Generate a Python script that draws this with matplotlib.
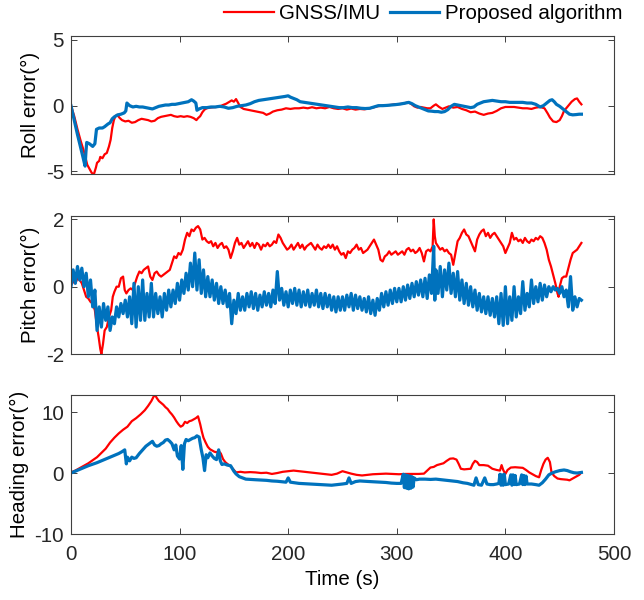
import numpy as np
import matplotlib
matplotlib.use("Agg")
import matplotlib.pyplot as plt

# values, (time s, error deg) pairs
roll_gnss = [
    (0, 0), (3, -0.8), (6, -1.8), (9, -2.7), (12, -3.5), (15, -4.5), (17, -4.8), (19, -5.1), (21, -5.25),
    (23, -4.7), (24, -4.35), (26, -4.2), (27, -3.9), (29, -4.0), (31, -3.7), (33, -3.6), (35, -3.1),
    (36.5, -2.6), (38, -1.7), (39.5, -1.1), (41, -0.8), (42.5, -0.7), (45, -0.95), (47, -1.1), (50, -1.2),
    (53, -1.15), (56, -1.3), (59, -1.25), (62, -1.1), (65, -1.0), (68, -1.05), (71, -1.1), (74, -1.2),
    (77, -1.15), (80, -0.95), (83, -0.85), (86, -0.8), (89, -0.75), (92, -0.7), (95, -0.8), (98, -0.85),
    (101, -0.8), (104, -0.85), (107, -0.8), (110, -0.85), (113, -0.95), (115.5, -1.1), (117, -0.95),
    (119, -0.8), (121, -0.5), (123, -0.3), (125, -0.2), (128, -0.15), (131, -0.12), (134, -0.1),
    (137, -0.05), (140, 0.05), (143, 0.15), (146, 0.3), (148, 0.4), (150, 0.3), (152, 0.5), (154, 0.2),
    (156, -0.1), (159, -0.25), (162, -0.3), (165, -0.35), (168, -0.4), (171, -0.45), (174, -0.5),
    (177, -0.55), (180, -0.7), (183, -0.6), (186, -0.45), (190, -0.35), (194, -0.3), (198, -0.2),
    (202, -0.25), (206, -0.2), (210, -0.2), (214, -0.15), (218, -0.2), (222, -0.12), (226, -0.2),
    (230, -0.15), (234, -0.2), (238, -0.1), (242, -0.2), (246, -0.25), (250, -0.2), (254, -0.3),
    (258, -0.22), (262, -0.3), (266, -0.25), (270, -0.28), (274, -0.22), (278, -0.15), (282, -0.05),
    (286, 0.0), (290, 0.02), (294, 0.05), (298, 0.1), (302, 0.12), (306, 0.15), (310, 0.25), (313, 0.15),
    (316, -0.05), (319, -0.15), (322, -0.1), (325, -0.15), (328, -0.2), (331, -0.2), (334, 0.0),
    (336, 0.1), (339, -0.1), (342, -0.25), (345, -0.15), (348, -0.05), (352, -0.15), (356, -0.1),
    (360, -0.25), (364, -0.35), (368, -0.5), (372, -0.45), (376, -0.6), (380, -0.7), (384, -0.6),
    (388, -0.55), (392, -0.4), (396, -0.2), (400, -0.1), (404, -0.1), (408, -0.1), (412, -0.15),
    (416, -0.2), (420, -0.2), (424, -0.25), (428, -0.15), (432, -0.1), (436, -0.2), (439, -0.6),
    (441, -0.9), (444, -1.2), (447, -1.25), (450, -1.1), (452, -0.8), (454, -0.4), (456, -0.2),
    (458, 0.0), (461, 0.3), (464, 0.5), (466, 0.55), (468, 0.3), (470, 0.1),
]
roll_prop = [
    (0, 0), (3, -1.1), (6, -2.2), (9, -3.2), (11, -3.9), (13, -4.6), (13.8, -3.5), (14.5, -2.8),
    (17, -2.9), (20, -3.1), (22, -2.9), (23.5, -1.8), (26, -1.7), (29, -1.7), (31, -1.6), (34, -1.4),
    (36, -1.3), (38, -1.0), (40, -0.85), (43, -0.7), (46, -0.65), (49, -0.55), (50.5, -0.4), (51.5, 0.2),
    (54, 0.0), (57, -0.1), (60, -0.05), (63, -0.1), (66, -0.1), (69, -0.15), (72, -0.2), (75, -0.25),
    (78, -0.15), (81, -0.05), (84, 0.0), (87, 0.05), (90, 0.05), (93, 0.1), (96, 0.1), (99, 0.15),
    (102, 0.2), (105, 0.25), (108, 0.3), (111, 0.45), (113, 0.35), (115, 0.2), (116, -0.35),
    (118, -0.25), (121, -0.15), (125, -0.15), (129, -0.1), (133, -0.1), (137, -0.05), (141, -0.1),
    (145, -0.2), (149, -0.15), (153, -0.05), (157, 0.0), (161, 0.05), (165, 0.15), (169, 0.3),
    (173, 0.4), (177, 0.45), (181, 0.5), (185, 0.55), (189, 0.6), (193, 0.65), (197, 0.7), (200, 0.75),
    (202, 0.65), (205, 0.55), (208, 0.45), (211, 0.3), (215, 0.25), (219, 0.2), (223, 0.15),
    (227, 0.1), (231, 0.05), (235, 0.0), (239, -0.05), (243, -0.1), (247, -0.15), (251, -0.15),
    (255, -0.1), (259, -0.15), (263, -0.15), (267, -0.2), (271, -0.22), (275, -0.2), (279, -0.1),
    (283, 0.0), (287, 0.0), (291, 0.02), (295, 0.05), (299, 0.08), (303, 0.12), (307, 0.18),
    (311, 0.25), (314, 0.15), (317, 0.0), (320, -0.1), (323, -0.2), (326, -0.3), (329, -0.4),
    (332, -0.42), (335, -0.45), (338, -0.45), (341, -0.5), (344, -0.45), (347, -0.3), (350, -0.05),
    (353, 0.1), (356, 0.05), (359, 0.0), (362, -0.05), (365, -0.1), (368, -0.15), (371, -0.1),
    (374, 0.1), (377, 0.2), (380, 0.3), (384, 0.35), (388, 0.4), (392, 0.35), (396, 0.3), (400, 0.3),
    (404, 0.25), (408, 0.25), (412, 0.25), (416, 0.25), (420, 0.2), (424, 0.2), (428, 0.1),
    (432, -0.1), (435, 0.0), (438, 0.2), (441, 0.4), (443, 0.45), (445, 0.3), (447, 0.1), (450, -0.05),
    (453, -0.25), (456, -0.45), (459, -0.65), (462, -0.7), (465, -0.68), (468, -0.65), (470, -0.65),
]
pitch_gnss = [
    (0, 0.05), (2, 0.15), (4, 0.1), (6, 0.25), (8, 0.2), (10, 0.1), (12, -0.1), (14, -0.3), (16, -0.35),
    (18, -0.45), (20, -0.5), (22, -0.7), (24, -1.2), (25.5, -1.5), (27, -1.85), (28, -2.0), (29.5, -1.7),
    (31, -1.3), (33, -1.2), (35, -0.9), (37, -0.7), (38.5, -0.3), (40, -0.15), (42, 0.0), (44, 0.0),
    (46, 0.25), (48, 0.3), (49.5, -0.1), (51, -0.2), (53, -0.1), (55, -0.05), (57, -0.1), (59, 0.1),
    (61, 0.3), (63, 0.45), (65, 0.4), (67, 0.5), (69, 0.55), (71, 0.6), (73, 0.3), (75, 0.2), (77, 0.4),
    (79, 0.45), (81, 0.35), (83, 0.3), (85, 0.35), (87, 0.4), (89, 0.45), (91, 0.5), (93, 0.7),
    (95, 0.9), (97, 0.85), (99, 1.0), (101, 0.95), (103, 1.1), (105, 1.4), (107, 1.6), (109, 1.5),
    (111, 1.7), (113, 1.65), (115, 1.75), (117, 1.8), (119, 1.7), (121, 1.4), (123, 1.45), (125, 1.35),
    (127, 1.3), (129, 1.35), (131, 1.2), (133, 1.3), (135, 1.15), (137, 1.25), (139, 1.3), (141, 1.15),
    (143, 1.2), (145, 1.1), (147, 0.85), (149, 1.05), (151, 1.3), (153, 1.45), (155, 1.25), (157, 1.3),
    (159, 1.15), (161, 1.25), (163, 1.35), (165, 1.2), (167, 1.3), (169, 1.15), (171, 1.3), (173, 1.25),
    (175, 1.1), (177, 1.25), (179, 1.2), (181, 1.3), (183, 1.2), (185, 1.25), (187, 1.35), (189, 1.3),
    (191, 1.55), (193, 1.45), (195, 1.3), (197, 1.2), (199, 1.1), (201, 1.15), (203, 1.25), (205, 1.1),
    (207, 1.2), (209, 1.3), (211, 1.15), (213, 1.25), (215, 1.1), (217, 1.2), (219, 1.25), (221, 1.3),
    (223, 1.2), (225, 1.1), (227, 1.25), (229, 1.15), (231, 1.1), (233, 1.2), (235, 1.15), (237, 1.25),
    (239, 1.15), (241, 1.25), (243, 1.1), (245, 1.2), (247, 1.05), (249, 0.95), (251, 1.0), (253, 0.85),
    (255, 1.05), (257, 1.0), (259, 1.1), (261, 1.15), (263, 1.25), (265, 1.1), (267, 1.15), (269, 1.0),
    (271, 1.05), (273, 1.1), (275, 1.2), (277, 1.3), (279, 1.4), (281, 1.25), (283, 1.1), (285, 0.8),
    (287, 0.75), (289, 0.9), (291, 0.95), (293, 1.05), (295, 0.95), (297, 1.0), (299, 1.05), (301, 0.95),
    (303, 1.0), (305, 1.05), (307, 0.95), (309, 1.1), (311, 1.15), (313, 1.05), (315, 1.1), (317, 1.0),
    (319, 1.05), (321, 1.15), (323, 1.0), (325, 0.75), (327, 1.05), (329, 1.1), (331, 1.05), (333, 1.2),
    (334, 2.0), (335, 1.5), (336, 1.3), (338, 1.2), (340, 1.1), (342, 1.15), (344, 1.05), (346, 1.1),
    (348, 1.0), (350, 0.95), (352, 0.65), (354, 1.0), (356, 1.35), (358, 1.45), (360, 1.6), (362, 1.7),
    (364, 1.55), (366, 1.5), (368, 1.35), (370, 1.2), (372, 1.05), (374, 1.4), (376, 1.55), (378, 1.65),
    (380, 1.7), (382, 1.5), (384, 1.6), (386, 1.45), (388, 1.55), (390, 1.6), (392, 1.5), (394, 1.4),
    (396, 1.3), (398, 1.2), (400, 1.0), (402, 1.15), (404, 1.3), (406, 1.6), (408, 1.4), (410, 1.45),
    (412, 1.35), (414, 1.4), (416, 1.3), (418, 1.45), (420, 1.35), (422, 1.3), (424, 1.4), (426, 1.35),
    (428, 1.45), (430, 1.4), (432, 1.5), (434, 1.45), (436, 1.3), (438, 1.1), (440, 0.8), (442, 0.6),
    (444, 0.35), (446, 0.1), (448, -0.2), (449, -0.3), (450, 0.0), (452, 0.25), (454, 0.3), (456, 0.3),
    (458, 0.55), (460, 0.8), (462, 1.0), (464, 1.05), (466, 1.1), (468, 1.2), (470, 1.3),
]
pitch_prop = [
    (0, 0.0), (2, 0.5), (4, 0.1), (6, 0.6), (8, 0.2), (10, 0.55), (12, 0.0), (14, 0.4), (16, -0.3),
    (18, 0.2), (20, -0.6), (22, -0.1), (24, -1.3), (26, -0.6), (28, -1.2), (30, -0.5), (32, -1.0),
    (34, -0.6), (36, -1.3), (38, -0.9), (40, -1.1), (42, -0.6), (44, -0.9), (46, -0.5), (48, -0.8),
    (50, -0.4), (52, -0.9), (54, -0.3), (56, -1.1), (58, 0.1), (60, -1.2), (62, 0.0), (64, -1.0),
    (66, 0.2), (68, -1.0), (70, -0.2), (72, -0.9), (74, 0.1), (76, -0.9), (78, -0.2), (80, -0.8),
    (82, -0.3), (84, -0.9), (86, -0.2), (88, -0.7), (90, -0.1), (92, -0.6), (94, -0.1), (96, -0.5),
    (98, 0.1), (100, -0.4), (102, 0.2), (104, -0.2), (106, 0.4), (108, -0.1), (110, 0.7), (112, 0.0),
    (114, 1.0), (116, -0.1), (118, 0.8), (120, -0.2), (122, 0.5), (124, -0.3), (126, 0.3), (128, -0.3),
    (130, 0.2), (132, -0.4), (134, 0.1), (136, -0.5), (138, 0.0), (140, -0.5), (142, -0.1), (144, -0.6),
    (146, -0.2), (148, -1.1), (150, -0.4), (152, -0.8), (154, -0.2), (156, -0.7), (158, -0.3),
    (160, -0.7), (162, -0.2), (164, -0.6), (166, -0.15), (168, -0.65), (170, -0.2), (172, -0.7),
    (174, -0.25), (176, -0.6), (178, -0.15), (180, -0.55), (182, -0.2), (184, -0.6), (186, -0.1),
    (188, -0.5), (190, 0.45), (192, -0.4), (194, -0.05), (196, -0.55), (198, -0.15), (200, -0.6),
    (202, -0.1), (204, -0.5), (206, -0.05), (208, -0.55), (210, -0.1), (212, -0.6), (214, -0.15),
    (216, -0.55), (218, -0.1), (220, -0.6), (222, -0.2), (224, -0.55), (226, -0.1), (228, -0.6),
    (230, -0.2), (232, -0.65), (234, -0.2), (236, -0.6), (238, -0.25), (240, -0.7), (242, -0.3),
    (244, -0.75), (246, -0.3), (248, -0.7), (250, -0.3), (252, -0.7), (254, -0.25), (256, -0.6),
    (258, -0.2), (260, -0.7), (262, -0.25), (264, -0.65), (266, -0.3), (268, -0.7), (270, -0.35),
    (272, -0.75), (274, -0.3), (276, -0.8), (278, -0.4), (280, -0.85), (282, -0.35), (284, -0.7),
    (286, -0.2), (288, -0.6), (290, -0.15), (292, -0.55), (294, -0.1), (296, -0.5), (298, -0.05),
    (300, -0.45), (302, -0.05), (304, -0.45), (306, 0.0), (308, -0.4), (310, 0.05), (312, -0.35),
    (314, 0.1), (316, -0.3), (318, 0.15), (320, -0.25), (322, 0.2), (324, -0.3), (326, 0.25),
    (328, -0.35), (330, 0.35), (332, -0.2), (334, 1.2), (335, -0.4), (336, 0.5), (338, -0.2), (340, 0.6),
    (342, -0.3), (344, 0.5), (346, -0.1), (348, 0.7), (350, -0.2), (352, 0.4), (354, -0.3), (356, 0.45),
    (358, -0.4), (360, 0.2), (362, -0.5), (364, 0.1), (366, -0.55), (368, 0.0), (370, -0.6), (372, -0.1),
    (374, -0.7), (376, -0.2), (378, -0.75), (380, -0.3), (382, -0.8), (384, -0.3), (386, -0.85),
    (388, -0.35), (390, -0.9), (392, -0.3), (394, -1.1), (396, -0.2), (398, -1.15), (400, 0.0),
    (402, -1.1), (404, -0.3), (406, -1.0), (408, 0.0), (410, -0.9), (412, -0.3), (414, -0.8),
    (416, 0.15), (418, -0.7), (420, -0.2), (422, -0.6), (424, 0.2), (426, -0.5), (428, 0.0),
    (430, -0.45), (432, 0.1), (434, -0.4), (436, 0.05), (438, -0.3), (440, 0.0), (442, -0.15),
    (444, 0.0), (446, -0.1), (448, -0.05), (450, -0.2), (452, 0.0), (454, -0.3), (456, -0.1),
    (458, -0.6), (460, 0.3), (462, -0.7), (464, -0.3), (466, -0.6), (468, -0.35), (470, -0.4),
]
heading_gnss = [
    (0, 0.1), (4, 0.4), (8, 0.8), (12, 1.2), (16, 1.6), (20, 2.1), (24, 2.6), (28, 3.3), (32, 4.0),
    (36, 5.0), (40, 5.8), (44, 6.5), (48, 7.1), (52, 7.6), (56, 8.5), (60, 9.0), (64, 9.6), (68, 10.3),
    (71, 11.0), (74, 11.8), (76, 12.5), (77.5, 12.8), (79, 12.3), (81, 11.8), (83, 11.5), (85, 11.2),
    (87, 10.8), (89, 10.5), (91, 10.0), (93, 9.6), (95, 9.1), (97, 8.5), (99, 8.0), (101, 7.6),
    (103, 7.8), (105, 8.4), (107, 8.2), (109, 8.5), (111, 8.6), (113, 8.8), (115, 9.0), (117, 9.3),
    (119, 8.0), (120.5, 6.8), (122, 5.8), (124, 5.0), (126, 4.3), (128, 3.9), (130, 3.7), (132, 3.5),
    (134, 3.4), (136, 3.6), (138, 3.2), (140, 2.3), (142, 1.8), (144, 1.5), (146, 1.2), (148, 0.9),
    (150, 0.5), (152, 0.1), (156, 0.2), (160, 0.1), (165, 0.15), (170, 0.1), (175, 0.0), (180, 0.05),
    (185, -0.15), (190, 0.0), (195, 0.2), (200, 0.3), (205, 0.4), (210, 0.3), (215, 0.2), (220, 0.1),
    (225, 0.0), (230, -0.1), (235, -0.2), (240, -0.3), (245, -0.1), (250, 0.3), (254, 0.1),
    (258, -0.1), (263, -0.3), (268, -0.4), (273, -0.3), (278, -0.2), (284, -0.15), (290, -0.1),
    (296, -0.15), (302, -0.2), (308, -0.15), (314, -0.15), (320, -0.15), (325, -0.1), (328, 0.4),
    (331, 0.9), (334, 1.0), (337, 1.3), (340, 1.45), (343, 1.6), (346, 2.0), (349, 2.35), (352, 2.4),
    (355, 2.2), (357, 1.5), (359, 0.7), (362, 0.6), (365, 0.65), (368, 0.7), (370, 1.5), (372, 2.0),
    (374, 1.8), (376, 1.3), (380, 1.3), (384, 1.2), (388, 0.7), (392, 0.5), (395, 0.4), (396.5, 1.3),
    (398, 0.5), (400, -0.15), (402, 0.5), (405, 0.9), (409, 0.95), (413, 0.9), (416, 0.85), (419, 0.5),
    (422, 0.1), (425, -0.2), (428, -0.5), (431, -0.7), (433, 0.5), (435, 1.5), (437, 2.2), (439, 2.5),
    (441, 1.8), (442.5, 0.1), (445, -0.5), (448, -0.9), (451, -1.0), (454, -1.05), (457, -1.1),
    (459, -1.2), (462, -0.9), (465, -0.6), (468, -0.3), (470, 0.1),
]
heading_prop = [
    (0, 0), (4, 0.3), (8, 0.6), (12, 0.9), (16, 1.2), (20, 1.45), (24, 1.7), (28, 2.0), (32, 2.3),
    (36, 2.6), (40, 2.9), (44, 3.2), (47, 3.5), (49.5, 3.8), (51, 1.5), (52, 2.6), (54, 2.0), (56, 2.6),
    (58, 2.4), (60, 2.5), (63, 3.2), (66, 3.8), (69, 4.4), (72, 4.8), (75, 5.2), (77, 4.6), (79, 4.4),
    (81, 4.5), (83, 4.8), (85, 5.0), (87, 5.4), (89, 5.5), (91, 5.2), (93, 4.8), (95, 3.8), (96.5, 4.6),
    (98, 2.8), (100, 2.3), (101.5, 4.5), (103, 0.6), (104.5, 4.8), (106, 5.5), (108, 5.3), (110, 5.5),
    (112, 5.7), (114, 5.8), (116, 6.1), (118, 5.9), (120, 3.8), (121.5, 2.5), (123, 0.4), (124.5, 3.0),
    (126, 2.5), (128, 3.3), (130, 2.8), (132, 2.4), (134, 2.2), (136, 3.8), (137.5, 2.0), (139, 1.4),
    (141, 1.5), (144, 1.3), (147, 1.2), (150, 0.3), (152, -0.15), (155, -0.6), (158, -0.8), (161, -1.0),
    (165, -1.05), (170, -1.1), (175, -1.15), (180, -1.2), (185, -1.3), (190, -1.35), (195, -1.45),
    (198, -1.5), (200, -0.8), (202, -1.5), (206, -1.6), (210, -1.7), (215, -1.75), (220, -1.8),
    (225, -1.85), (230, -1.9), (235, -1.95), (240, -2.0), (245, -1.9), (250, -1.8), (254, -1.7),
    (256, -0.8), (258, -1.7), (262, -1.4), (266, -1.3), (270, -1.35), (275, -1.4), (280, -1.45),
    (285, -1.5), (290, -1.55), (295, -1.65), (300, -1.7), (304, -1.7), (306, -0.2), (307, -2.4),
    (308, -0.3), (309, -2.5), (310, -0.4), (311, -2.6), (312, -0.5), (313, -2.5), (314, -0.6),
    (315, -2.3), (316, -0.8), (318, -1.1), (321, -1.0), (326, -1.0), (331, -1.05), (336, -1.0),
    (341, -1.1), (346, -1.2), (351, -1.3), (356, -1.4), (361, -1.6), (365, -1.7), (369, -1.9),
    (371, -2.0), (373, -0.8), (375, -1.9), (378, -2.0), (381, -0.8), (383, -1.8), (386, -1.9),
    (389, -1.9), (392, -1.8), (394, -1.7), (395, -0.2), (396, -2.0), (397, -0.3), (398, -2.0),
    (399, -0.2), (400, -1.9), (403, -1.8), (405, -0.3), (406, -2.0), (407, -0.3), (408, -1.9),
    (409, -0.4), (410, -1.9), (413, -1.8), (415, -0.3), (416, -1.9), (417, -0.4), (418, -1.9),
    (419, -0.5), (420, -1.8), (424, -1.8), (428, -1.9), (431, -2.0), (434, -1.6), (437, -1.0),
    (440, -0.3), (443, 0.0), (446, 0.2), (450, 0.4), (454, 0.5), (457, 0.4), (460, 0.2), (463, 0.05),
    (466, 0.0), (470, 0.1),
]

YLABELS = ["Roll error(\u00b0)", "Pitch error(\u00b0)", "Heading error(\u00b0)"]
YLIMS = [(-5.2, 5.3), (-2.0, 2.1), (-9.6, 12.8)]
YTICKS = [[-5, 0, 5], [-2, 0, 2], [-10, 0, 10]]
XTICKS = [0, 100, 200, 300, 400, 500]
CRED, CBLUE, CAX = "#ff0000", "#0072bd", "#404040"

plt.rcParams.update({"font.family": ["Liberation Sans", "DejaVu Sans"], "font.size": 14.8,
                     "axes.unicode_minus": False})

fig = plt.figure(figsize=(6.44, 6.0), dpi=100)
left, width = 0.1102, 0.8432
boxes = [(0.71, 0.23), (0.41, 0.23), (0.11, 0.2317)]
series = [(roll_gnss, roll_prop), (pitch_gnss, pitch_prop), (heading_gnss, heading_prop)]

axes = []
for i, ((bot, h), (red, blue)) in enumerate(zip(boxes, series)):
    ax = fig.add_axes([left, bot, width, h])
    r = np.array(red).T
    b = np.array(blue).T
    l1, = ax.plot(r[0], r[1], color=CRED, lw=1.6, label="GNSS/IMU")
    l2, = ax.plot(b[0], b[1], color=CBLUE, lw=2.3, label="Proposed algorithm")
    ax.set_xlim(0, 500)
    ax.set_ylim(*YLIMS[i])
    ax.set_xticks(XTICKS)
    ax.set_yticks(YTICKS[i])
    ax.set_ylabel(YLABELS[i], labelpad=4)
    ax.tick_params(direction="in", top=True, right=True, length=4, width=0.7, color=CAX, pad=5,
                   labelcolor="#262626")
    ax.tick_params(axis="x", pad=8)
    for s in ax.spines.values():
        s.set_color(CAX)
        s.set_linewidth(0.8)
    if i < 2:
        ax.set_xticklabels([])
    axes.append(ax)

axes[-1].set_xlabel("Time (s)", labelpad=4)

fig.legend([l1, l2], ["GNSS/IMU", "Proposed algorithm"], loc="center", ncol=2, frameon=False,
           bbox_to_anchor=(0.657, 0.978), handlelength=2.4, handletextpad=0.25, columnspacing=0.5,
           borderpad=0.1)

fig.savefig("out.png", dpi=100)
